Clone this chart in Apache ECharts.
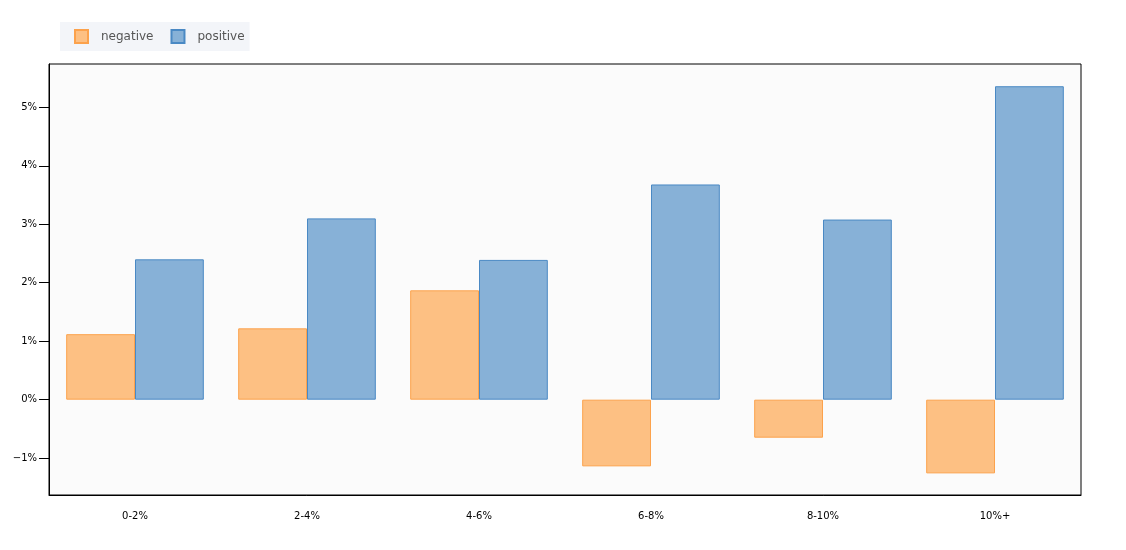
<!DOCTYPE html>
<html>
<head>
<meta charset="utf-8">
<script src="https://cdn.jsdelivr.net/npm/echarts@6/dist/echarts.min.js"></script>
<style>html,body{margin:0;padding:0;background:#fff}#c{width:1126px;height:550px}</style>
</head>
<body>
<div id="c"></div>
<script>
const categories = ['0-2%', '2-4%', '4-6%', '6-8%', '8-10%', '10%+'];
const negativeValues = [1.12, 1.22, 1.87, -1.14, -0.65, -1.26];
const positiveValues = [2.40, 3.10, 2.39, 3.68, 3.08, 5.36];
const yTickValues = [-1, 0, 1, 2, 3, 4, 5];

const chart = echarts.init(document.getElementById('c'));
chart.setOption({
  animation: false,
  backgroundColor: '#ffffff',
  textStyle: { fontFamily: 'DejaVu Sans' },
  legend: {
    left: 60, top: 22,
    padding: [7, 5, 7, 14],
    backgroundColor: '#f3f5f9',
    itemWidth: 13, itemHeight: 13, itemGap: 17,
    icon: 'rect',
    textStyle: { color: '#555', fontSize: 12, padding: [0, 0, 0, 8] },
    data: ['negative', 'positive']
  },
  grid: {
    left: 49, right: 45, top: 64, bottom: 55,
    show: true, backgroundColor: '#fbfbfb', borderColor: '#000', borderWidth: 1
  },
  xAxis: {
    type: 'category',
    data: categories,
    axisLine: { onZero: false, lineStyle: { color: '#000' } },
    axisTick: { alignWithLabel: true, length: 10, lineStyle: { color: '#000' } },
    axisLabel: { color: '#000', fontSize: 10, margin: 16 }
  },
  yAxis: {
    type: 'value',
    min: -1.63, max: 5.74,
    splitLine: { show: false },
    axisLine: { show: true, lineStyle: { color: '#000' } },
    axisTick: { show: true, length: 10, lineStyle: { color: '#000' }, customValues: yTickValues },
    axisLabel: {
      color: '#000', fontSize: 10, margin: 12,
      customValues: yTickValues,
      formatter: v => (v < 0 ? '\u2212' + Math.abs(v) : v) + '%'
    }
  },
  series: [
    {
      name: 'negative', type: 'bar', data: negativeValues,
      barGap: '0%', barCategoryGap: '20%',
      itemStyle: { color: '#fdc083', borderColor: '#fca24c', borderWidth: 1 }
    },
    {
      name: 'positive', type: 'bar', data: positiveValues,
      barGap: '0%', barCategoryGap: '20%',
      itemStyle: { color: '#87b1d7', borderColor: '#4a89c4', borderWidth: 1 }
    }
  ]
});
</script>
</body>
</html>
